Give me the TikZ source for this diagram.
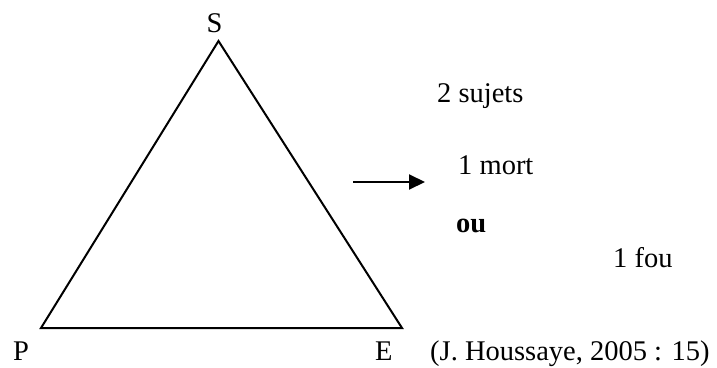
\documentclass[tikz,border=0pt]{standalone}
\usepackage{fontspec}
\setmainfont{Liberation Serif}
\usetikzlibrary{arrows.meta}
\begin{document}
\begin{tikzpicture}[x=1pt,y=-1pt,
  lbl/.style={inner sep=0pt,anchor=base west,font=\fontsize{28.5}{34}\selectfont},
  edge/.style={line width=2pt,line join=miter},
  arr/.style={line width=2pt,-{Triangle[length=16pt,width=15pt]}}]
\useasboundingbox (0,0) rectangle (717,367);
\coordinate (vS) at (218.5,41);
\coordinate (vP) at (41,328);
\coordinate (vE) at (402,328);
\draw[edge] (vS) -- (vP) -- (vE) -- cycle;
\node[lbl,anchor=base] (S) at (214.5,32) {S};
\node[lbl] (P) at (13,360) {P};
\node[lbl] (E) at (375,360) {E};
\node[lbl] (ref) at (430,360) {(J. Houssaye, 2005 : 15)};
\node[lbl] (suj) at (437,102) {2 sujets};
\node[lbl] (mort) at (458,174) {1 mort};
\node[lbl] (ou) at (456,232) {\bfseries ou};
\node[lbl] (fou) at (613,267) {1 fou};
\coordinate (a1) at (353,182);
\coordinate (a2) at (425,182);
\draw[arr] (a1) -- (a2);
\end{tikzpicture}
\end{document}
